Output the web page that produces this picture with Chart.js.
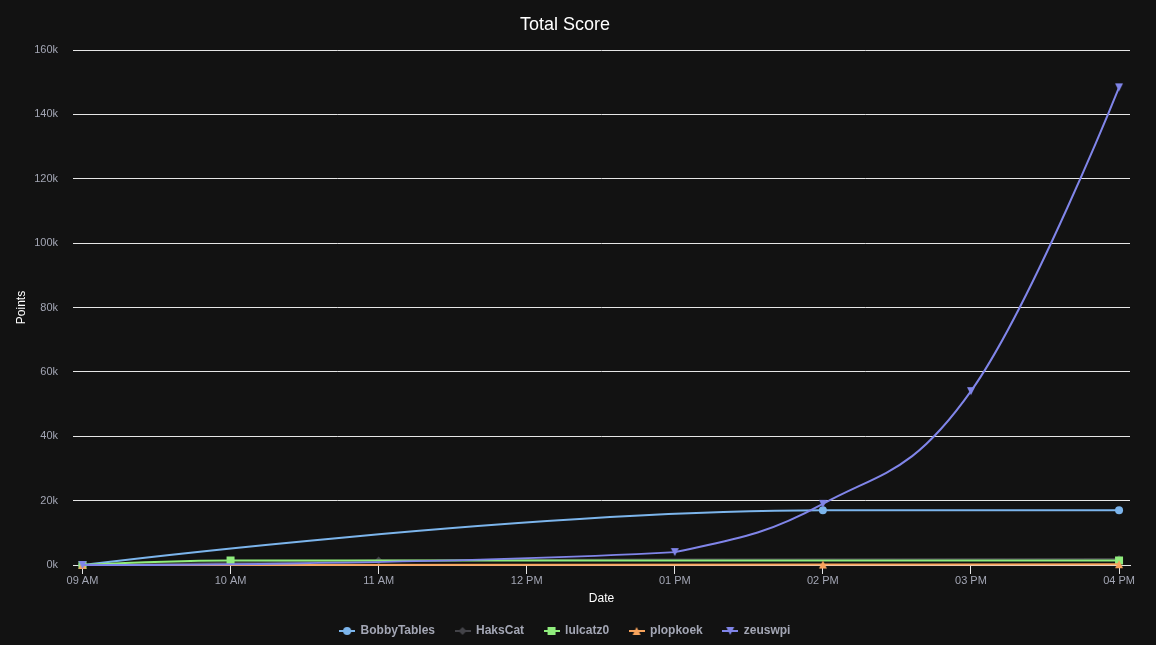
<!DOCTYPE html>
<html>
<head>
<meta charset="utf-8">
<script src="https://cdn.jsdelivr.net/npm/chart.js@4.4.1/dist/chart.umd.min.js"></script>
<style>
html,body{margin:0;padding:0;background:#121212;overflow:hidden}
#wrap{width:1156px;height:645px;position:relative}
</style>
</head>
<body>
<div id="wrap"><canvas id="c" width="1156" height="645"></canvas></div>
<script>
// ---- data ----
const hourTicks = [9, 10, 11, 12, 13, 14, 15, 16];
const hourLabels = ['09 AM', '10 AM', '11 AM', '12 PM', '01 PM', '02 PM', '03 PM', '04 PM'];
const pointTicks = [0, 20000, 40000, 60000, 80000, 100000, 120000, 140000, 160000];

const seriesNames = ['BobbyTables', 'HaksCat', 'lulcatz0', 'plopkoek', 'zeuswpi'];

const bobbyHours = [9, 14, 16];
const bobbyPoints = [0, 17000, 17000];

const haksHours = [9, 11, 16];
const haksPoints = [0, 1400, 1900];

const lulHours = [9, 10, 16];
const lulPoints = [0, 1400, 1400];

const plopHours = [9, 14, 16];
const plopPoints = [0, 150, 250];

const zeusHours = [9, 13, 14, 15, 16];
const zeusPoints = [0, 4000, 19000, 54000, 148400];

// ---- styling ----
const seriesColors = ['#7cb5ec', '#434348', '#90ed7d', '#f7a35c', '#8085e9'];
const seriesShapes = ['circle', 'diamond', 'square', 'triangle', 'triangle-down'];
const labelColor = '#a3a6b4';
const gridColor = '#e6e6e6';

function drawShape(g, shape, x, y, r) {
  g.beginPath();
  switch (shape) {
    case 'circle': g.arc(x, y, r, 0, Math.PI * 2); break;
    case 'diamond': g.moveTo(x, y - r); g.lineTo(x + r, y); g.lineTo(x, y + r); g.lineTo(x - r, y); break;
    case 'square': g.rect(x - r, y - r, 2 * r, 2 * r); break;
    case 'triangle': g.moveTo(x, y - r); g.lineTo(x + r, y + r); g.lineTo(x - r, y + r); break;
    case 'triangle-down': g.moveTo(x - r, y - r); g.lineTo(x + r, y - r); g.lineTo(x, y + r); break;
  }
  g.closePath();
  g.fill();
}
function legendIcon(color, shape) {
  const c = document.createElement('canvas'); c.width = 16; c.height = 12;
  const g = c.getContext('2d');
  g.strokeStyle = color; g.lineWidth = 2;
  g.beginPath(); g.moveTo(0, 6); g.lineTo(16, 6); g.stroke();
  g.fillStyle = color; drawShape(g, shape, 8, 6, 4);
  return c;
}
function markerIcon(color, shape) {
  const c = document.createElement('canvas'); c.width = 10; c.height = 10;
  const g = c.getContext('2d');
  g.fillStyle = color; drawShape(g, shape, 5, 5, 4);
  return c;
}
const chartMarkers = [
  'circle', 'rectRot', 'rect', markerIcon(seriesColors[3], 'triangle'), markerIcon(seriesColors[4], 'triangle-down')
];
const markerRadius = [4, 4, 5.66, 4, 4];
const legendIcons = seriesColors.map((c, i) => legendIcon(c, seriesShapes[i]));

const seriesHours = [bobbyHours, haksHours, lulHours, plopHours, zeusHours];
const seriesPoints = [bobbyPoints, haksPoints, lulPoints, plopPoints, zeusPoints];

const datasets = seriesNames.map((name, i) => ({
  label: name,
  data: seriesHours[i].map((h, j) => ({ x: h, y: seriesPoints[i][j] })),
  borderColor: seriesColors[i],
  backgroundColor: seriesColors[i],
  pointBackgroundColor: seriesColors[i],
  pointBorderWidth: 0,
  pointStyle: chartMarkers[i],
  pointRadius: markerRadius[i],
  borderWidth: 2,
  tension: 0.4,
  fill: false,
  clip: 10,
  order: seriesNames.length - i
}));

// Highcharts-like spline control points computed from the library's own scaled points
const hcSpline = {
  id: 'hcSpline',
  beforeDatasetDraw(chart, args) {
    const line = args.meta.dataset;
    if (!line) return;
    if (typeof line.updateControlPoints === 'function') line.updateControlPoints(chart.chartArea, 'x');
    const pts = args.meta.data;
    const n = pts.length, sm = 1.5, den = 2.5;
    for (let i = 0; i < n; i++) { const p = pts[i]; p.cp1x = p.x; p.cp1y = p.y; p.cp2x = p.x; p.cp2y = p.y; }
    for (let i = 1; i < n - 1; i++) {
      const p = pts[i], a = pts[i - 1], b = pts[i + 1];
      const px = p.x, py = p.y;
      let lx = (sm * px + a.x) / den, ly = (sm * py + a.y) / den;
      let rx = (sm * px + b.x) / den, ry = (sm * py + b.y) / den;
      let corr = 0;
      if (rx !== lx) corr = ((ry - ly) * (rx - px)) / (rx - lx) + py - ry;
      ly += corr; ry += corr;
      if (ly > a.y && ly > py) { ly = Math.max(a.y, py); ry = 2 * py - ly; }
      else if (ly < a.y && ly < py) { ly = Math.min(a.y, py); ry = 2 * py - ly; }
      if (ry > b.y && ry > py) { ry = Math.max(b.y, py); ly = 2 * py - ry; }
      else if (ry < b.y && ry < py) { ry = Math.min(b.y, py); ly = 2 * py - ry; }
      p.cp1x = lx; p.cp1y = ly; p.cp2x = rx; p.cp2y = ry;
    }
    line._path = undefined;
  }
};

const bg = {
  id: 'bg',
  beforeDraw(chart) {
    const g = chart.ctx; g.save(); g.fillStyle = '#121212'; g.fillRect(0, 0, chart.width, chart.height); g.restore();
  }
};

Chart.defaults.font.family = "'Liberation Sans', Arial, sans-serif";

new Chart(document.getElementById('c'), {
  type: 'line',
  data: { datasets },
  plugins: [bg, hcSpline],
  options: {
    responsive: false,
    animation: false,
    events: [],
    layout: { padding: { left: 0, right: 26, top: 0, bottom: -2 } },
    plugins: {
      title: {
        display: true, text: 'Total Score', color: '#ffffff',
        font: { size: 18, weight: 'normal' }, padding: { top: 14.2, bottom: 14.2 }
      },
      legend: {
        position: 'bottom',
        labels: {
          usePointStyle: true, pointStyleWidth: 15, padding: 20, color: labelColor,
          font: { size: 12, weight: 'bold' },
          generateLabels: (chart) => chart.data.datasets.map((ds, i) => ({
            text: ds.label, fillStyle: ds.borderColor, strokeStyle: ds.borderColor, lineWidth: 0,
            pointStyle: legendIcons[i], hidden: !chart.isDatasetVisible(i), datasetIndex: i, fontColor: labelColor
          }))
        }
      },
      tooltip: { enabled: false }
    },
    scales: {
      x: {
        type: 'linear', min: 8.936, max: 16.074,
        afterBuildTicks: (s) => { s.ticks = hourTicks.map(v => ({ value: v })); },
        afterFit: (s) => { s.height = 40; },
        ticks: {
          autoSkip: false, maxRotation: 0, padding: 0, color: labelColor, font: { size: 11 },
          callback: (v) => hourLabels[hourTicks.indexOf(v)]
        },
        grid: { drawOnChartArea: false, color: gridColor, tickLength: 9 },
        border: { color: gridColor },
        title: { display: true, text: 'Date', color: '#ffffff', font: { size: 12 }, padding: { top: 0, bottom: -1.2 } }
      },
      y: {
        min: 0, max: 160000,
        afterBuildTicks: (s) => { s.ticks = pointTicks.map(v => ({ value: v })); },
        afterFit: (s) => { s.width = 73; },
        ticks: { padding: 15, color: labelColor, font: { size: 11 }, callback: (v) => (v / 1000) + 'k' },
        grid: { color: gridColor, drawTicks: false },
        border: { display: false },
        title: { display: true, text: 'Points', color: '#ffffff', font: { size: 12 }, padding: { top: 14.8, bottom: 0 } }
      }
    }
  }
});
</script>
</body>
</html>
